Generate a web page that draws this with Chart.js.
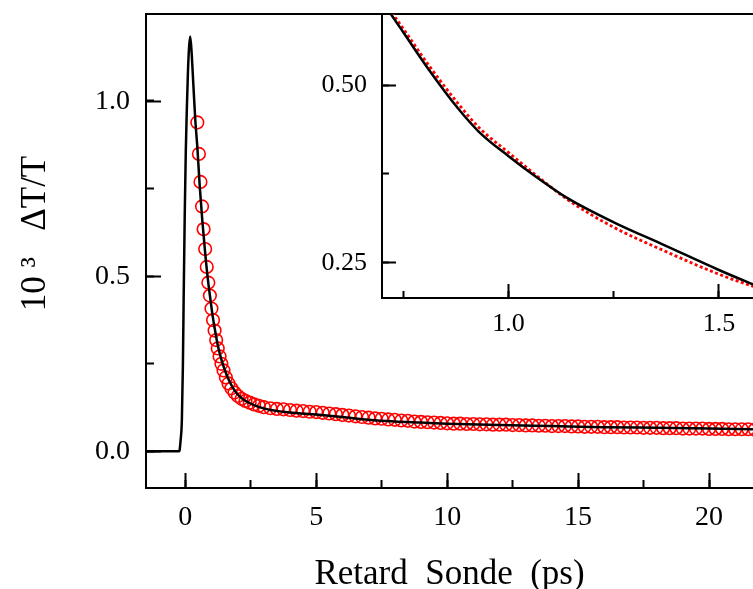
<!DOCTYPE html>
<html>
<head>
<meta charset="utf-8">
<script src="https://cdn.jsdelivr.net/npm/chart.js@4.4.1/dist/chart.umd.min.js"></script>
<style>
  body { margin: 0; background: #fff; }
  #wrap { position: relative; width: 753px; height: 589px; overflow: hidden; }
  #main { position: absolute; left: 0; top: 0; }
  #inset { position: absolute; left: 300px; top: 0; }
</style>
</head>
<body>
<div id="wrap">
  <canvas id="main" width="753" height="589"></canvas>
  <canvas id="inset" width="453" height="340"></canvas>
</div>
<script>
// measured trace (black line), ps / 10^3 dT/T
const lineTime = [-1.5, -0.8, -0.25, -0.22, -0.18, -0.13, -0.09, -0.06, -0.02, 0.02, 0.06, 0.1, 0.14, 0.19,
  0.25, 0.3, 0.38, 0.46, 0.55, 0.65, 0.75, 0.85, 0.95, 1.05, 1.15, 1.25, 1.38, 1.53, 1.7, 1.9, 2.15, 2.45,
  2.8, 3.2, 4, 5, 6, 7, 8, 9, 10, 12, 14, 16, 18, 20, 21.7];
const lineValue = [0, 0, 0, 0.002, 0.03, 0.09, 0.25, 0.45, 0.68, 0.86, 0.98, 1.08, 1.15, 1.186,
  1.13, 1.06, 0.95, 0.87, 0.76, 0.66, 0.575, 0.5, 0.44, 0.385, 0.34, 0.3, 0.262, 0.228, 0.198, 0.172, 0.152, 0.138,
  0.127, 0.119, 0.111, 0.105, 0.098, 0.09, 0.085, 0.082, 0.079, 0.075, 0.072, 0.069, 0.067, 0.065, 0.063];

// fit points (red circles)
const fitTime = [0.46, 0.52, 0.58, 0.64, 0.7, 0.76, 0.82, 0.88, 0.94, 1.0, 1.06, 1.12, 1.18, 1.24, 1.31, 1.38,
  1.46, 1.55, 1.65, 1.76, 1.88, 2.01, 2.15, 2.3, 2.46, 2.63, 2.81, 3.0,
  3.25, 3.5, 3.75, 4.0, 4.25, 4.5, 4.75, 5.0, 5.25, 5.5, 5.75, 6.0, 6.25, 6.5, 6.75, 7.0, 7.25, 7.5, 7.75,
  8.0, 8.25, 8.5, 8.75, 9.0, 9.25, 9.5, 9.75, 10.0, 10.25, 10.5, 10.75, 11.0, 11.25, 11.5, 11.75,
  12.0, 12.25, 12.5, 12.75, 13.0, 13.25, 13.5, 13.75, 14.0, 14.25, 14.5, 14.75, 15.0, 15.25, 15.5, 15.75,
  16.0, 16.25, 16.5, 16.75, 17.0, 17.25, 17.5, 17.75, 18.0, 18.25, 18.5, 18.75, 19.0, 19.25, 19.5, 19.75,
  20.0, 20.25, 20.5, 20.75, 21.0, 21.25, 21.5, 21.75];
const fitValue = [0.94, 0.85, 0.77, 0.7, 0.635, 0.578, 0.527, 0.482, 0.445, 0.408, 0.375, 0.345, 0.318, 0.294, 0.271, 0.25,
  0.231, 0.211, 0.194, 0.18, 0.168, 0.158, 0.15, 0.144, 0.139, 0.134, 0.13, 0.126,
  0.123, 0.121, 0.12, 0.118, 0.116, 0.115, 0.113, 0.112, 0.11, 0.108, 0.106, 0.104, 0.102, 0.1, 0.098, 0.096, 0.094, 0.093, 0.091,
  0.09, 0.088, 0.087, 0.085, 0.084, 0.083, 0.082, 0.081, 0.08, 0.079, 0.079, 0.078, 0.078, 0.077, 0.077, 0.076,
  0.076, 0.076, 0.075, 0.075, 0.074, 0.074, 0.073, 0.073, 0.072, 0.072, 0.072, 0.071, 0.071, 0.07, 0.07, 0.07,
  0.069, 0.069, 0.069, 0.068, 0.068, 0.068, 0.067, 0.067, 0.067, 0.066, 0.066, 0.066, 0.065, 0.065, 0.065, 0.065,
  0.064, 0.064, 0.064, 0.063, 0.063, 0.063, 0.063, 0.062];

// inset (zoom on 0.7 - 1.6 ps)
const insetTime = [0.68, 0.72, 0.75, 0.81, 0.88, 0.93, 1.0, 1.07, 1.14, 1.25, 1.37, 1.5, 1.6];
const insetLine = [0.636, 0.6, 0.574, 0.522, 0.467, 0.434, 0.4, 0.369, 0.341, 0.307, 0.275, 0.24, 0.215];
const insetFit = [0.641, 0.604, 0.579, 0.528, 0.474, 0.44, 0.405, 0.371, 0.339, 0.3, 0.267, 0.234, 0.213];

const FONT = "'Liberation Serif', 'Times New Roman', serif";

function pts(xs, ys) {
  return xs.map((x, i) => ({ x: x, y: ys[i] }));
}

// one axis = major ticks + labels, a zero-size twin carries the minor ticks
function axis(opt) {
  return {
    type: "linear",
    position: opt.pos,
    min: opt.min,
    max: opt.max,
    weight: opt.minor ? 0 : 1,
    afterFit: (s) => {
      if (opt.pos === "left") s.width = opt.size;
      else s.height = opt.size;
      // no extra room for overhanging labels, the frame is placed by hand
      s.paddingTop = 0;
      s.paddingBottom = 0;
      s.paddingLeft = 0;
      s.paddingRight = 0;
    },
    ticks: {
      display: !opt.minor && opt.labels !== false,
      stepSize: opt.step,
      includeBounds: false,
      padding: opt.pad || 0,
      color: "#000",
      font: { family: FONT, size: opt.fs || 28 },
      callback: opt.fmt,
    },
    grid: {
      display: opt.tick !== 0,
      drawOnChartArea: false,
      drawTicks: true,
      tickLength: opt.tick || 0,
      tickWidth: 2,
      tickColor: "#000",
    },
    border: { display: !opt.minor, color: "#000", width: 2 },
    title: opt.title
      ? {
          display: true,
          text: opt.title,
          color: "#000",
          font: { family: FONT, size: 35, lineHeight: 1 },
          padding: opt.titlePad,
        }
      : { display: false },
  };
}

new Chart(document.getElementById("main"), {
  type: "line",
  data: {
    datasets: [
      {
        label: "trace",
        data: pts(lineTime, lineValue),
        borderColor: "#000",
        borderWidth: 2.5,
        pointRadius: 0,
        cubicInterpolationMode: "monotone",
        xAxisID: "x",
        yAxisID: "y",
      },
      {
        label: "fit",
        data: pts(fitTime, fitValue),
        showLine: false,
        pointStyle: "circle",
        pointRadius: 6.3,
        pointBorderWidth: 1.6,
        pointBorderColor: "#ff0000",
        pointBackgroundColor: "rgba(0,0,0,0)",
        xAxisID: "x",
        yAxisID: "y",
      },
    ],
  },
  options: {
    responsive: false,
    animation: false,
    layout: { autoPadding: false, padding: { top: 14, right: 0, bottom: 0, left: 0 } },
    plugins: { legend: { display: false }, tooltip: { enabled: false } },
    scales: {
      x: axis({ pos: "bottom", min: -1.5, max: 21.68, size: 101, step: 5, tick: -15, pad: 28,
        fmt: (v) => v, title: "Retard  Sonde  (ps)", titlePad: { top: 0, bottom: -3 } }),
      xMinor: axis({ pos: "bottom", min: -1.5, max: 21.68, size: 0, step: 2.5, tick: -8, minor: true }),
      xTop: axis({ pos: "top", min: -1.5, max: 21.68, size: 0, step: 5, tick: 0, labels: false }),
      y: axis({ pos: "left", min: -0.105, max: 1.25, size: 146, step: 0.5, tick: -15, pad: 31,
        fmt: (v) => v.toFixed(1), title: "    10 \u00b3   \u0394T/T", titlePad: { top: 18, bottom: 0 } }),
      yMinor: axis({ pos: "left", min: -0.105, max: 1.248, size: 0, step: 0.25, tick: -8, minor: true }),
    },
  },
});

new Chart(document.getElementById("inset"), {
  type: "line",
  data: {
    datasets: [
      {
        label: "trace",
        data: pts(insetTime, insetLine),
        borderColor: "#000",
        borderWidth: 2.5,
        pointRadius: 0,
        cubicInterpolationMode: "monotone",
      },
      {
        label: "fit",
        data: pts(insetTime, insetFit),
        borderColor: "#ff0000",
        borderWidth: 2.8,
        borderDash: [3, 2.5],
        pointRadius: 0,
        cubicInterpolationMode: "monotone",
      },
    ],
  },
  options: {
    responsive: false,
    animation: false,
    layout: { autoPadding: false, padding: { top: 14, right: 0, bottom: 0, left: 0 } },
    plugins: { legend: { display: false }, tooltip: { enabled: false } },
    scales: {
      x: axis({ pos: "bottom", min: 0.699, max: 1.581, size: 42, step: 0.5, tick: -14, pad: 25, fs: 26,
        fmt: (v) => v.toFixed(1) }),
      xMinor: axis({ pos: "bottom", min: 0.699, max: 1.581, size: 0, step: 0.25, tick: -7, minor: true }),
      y: axis({ pos: "left", min: 0.2006, max: 0.6, size: 82, step: 0.25, tick: -14, pad: 29, fs: 26,
        fmt: (v) => v.toFixed(2) }),
      yMinor: axis({ pos: "left", min: 0.2006, max: 0.6, size: 0, step: 0.125, tick: -7, minor: true }),
    },
  },
});
</script>
</body>
</html>
